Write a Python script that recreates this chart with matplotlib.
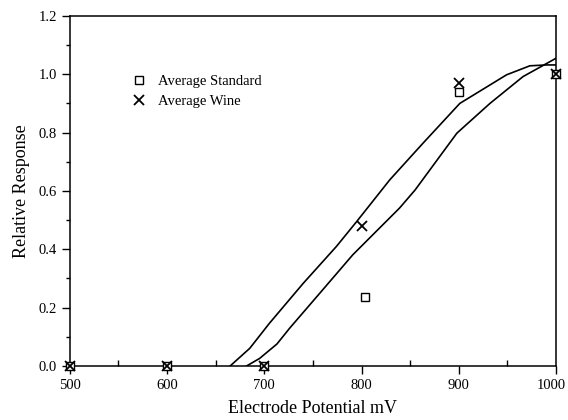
import numpy as np
import matplotlib
matplotlib.use("Agg")
import matplotlib.pyplot as plt
from matplotlib.ticker import MultipleLocator

plt.rcParams['font.family'] = ['Liberation Serif', 'DejaVu Serif']

# measured points
pot_std = [500, 600, 700, 803, 900, 1000]
resp_std = [0.0, 0.0, 0.0, 0.235, 0.94, 1.0]
pot_wine = [500, 600, 700, 800, 900, 1000]
resp_wine = [0.0, 0.0, 0.0, 0.48, 0.97, 1.0]

# the two fitted curves
fit1_x = [665, 685, 705, 740, 774, 795, 829, 863, 901, 949, 973, 990, 1000]
fit1_y = [0.0, 0.06, 0.145, 0.283, 0.409, 0.495, 0.638, 0.763, 0.90, 0.998, 1.029, 1.032, 1.032]
fit2_x = [682, 695, 713, 726, 757, 791, 839, 855, 898, 932, 966, 1000]
fit2_y = [0.0, 0.025, 0.075, 0.129, 0.249, 0.381, 0.541, 0.603, 0.798, 0.90, 0.992, 1.055]

x_ticks = [500, 600, 700, 800, 900, 1000]

fig = plt.figure(figsize=(5.68, 4.2), dpi=100)
ax = fig.add_axes([0.123, 0.129, 0.856, 0.833])

ax.plot(fit1_x, fit1_y, color='black', lw=1.2, zorder=2)
ax.plot(fit2_x, fit2_y, color='black', lw=1.2, zorder=2)
ax.plot(pot_std, resp_std, 's', mfc='white', mec='black', ms=6, mew=1.0,
        ls='none', label='Average Standard', clip_on=False, zorder=3)
ax.plot(pot_wine, resp_wine, 'x', color='black', ms=6.5, mew=1.3,
        ls='none', label='Average Wine', clip_on=False, zorder=4)

ax.set_xlim(500, 1000)
ax.set_ylim(0, 1.2)
# last label is drawn separately, slightly shifted so it fits in the figure
ax.set_xticks(x_ticks, [str(t) for t in x_ticks[:-1]] + [''])
ax.xaxis.set_minor_locator(MultipleLocator(50))
ax.yaxis.set_major_locator(MultipleLocator(0.2))
ax.yaxis.set_minor_locator(MultipleLocator(0.1))
ax.yaxis.set_major_formatter(plt.FuncFormatter(lambda v, p: '%.1f' % v))
ax.tick_params(axis='both', which='major', direction='out', length=6, width=1, labelsize=10.5)
ax.tick_params(axis='x', which='minor', direction='in', length=4, width=1)
ax.tick_params(axis='y', which='minor', direction='out', length=3, width=1)
for s in ax.spines.values():
    s.set_linewidth(1.1)

ax.annotate(str(x_ticks[-1]), xy=(x_ticks[-1], 0), xycoords=('data', 'axes fraction'),
            xytext=(-3.5, -9.5), textcoords='offset points', ha='center', va='top',
            fontsize=10.5, annotation_clip=False)

ax.set_xlabel('Electrode Potential mV', fontsize=13, labelpad=6)
ax.set_ylabel('Relative Response', fontsize=13, labelpad=6)

ax.legend(loc='upper left', bbox_to_anchor=(0.1, 0.87), frameon=False,
          fontsize=10.5, handletextpad=0.8, labelspacing=0.5, handlelength=1.0)

plt.savefig('out.png', dpi=100)
